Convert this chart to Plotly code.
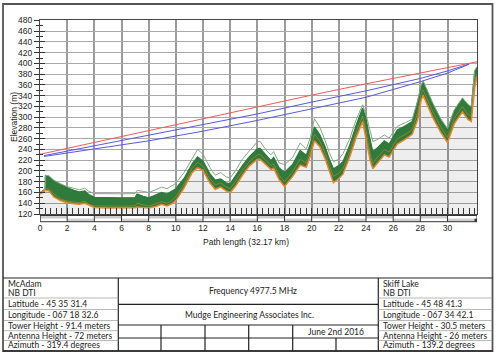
import plotly.graph_objects as go

# ---------------- data ----------------
x_km = [0.0, 0.38, 0.4, 0.65, 1.0, 1.5, 2.0, 2.5, 2.9, 3.3, 3.6, 4.0, 5.0, 6.0, 7.0, 7.15,
        7.6, 8.0, 8.5, 8.95, 9.35, 9.7, 10.0, 10.6, 11.2, 11.6, 12.0, 12.5, 12.9, 13.3,
        13.7, 14.0, 14.4, 14.9, 15.4, 16.0, 16.2, 16.7, 17.0, 17.2, 17.6, 18.0, 18.6,
        19.15, 19.6, 19.9, 20.2, 20.6, 21.0, 21.3, 21.6, 22.0, 22.3, 22.8, 23.3, 23.75,
        24.0, 24.3, 24.5, 24.8, 25.35, 25.7, 26.3, 26.9, 27.4, 27.8, 28.05, 28.2, 28.45,
        28.9, 29.5, 30.0, 30.5, 31.1, 31.5, 31.75, 32.0, 32.17]
ground_m = [157, 163, 164, 163, 152, 145, 141, 139, 138, 140, 136, 132, 131, 131, 131.5, 133,
            132, 131, 134, 138, 135, 139, 145, 168, 197, 206, 201, 178, 166, 170,
            163, 160, 172, 192, 209, 222, 222, 211, 203, 205, 184, 171, 190,
            211, 207, 228, 256, 245, 222, 200, 178, 186, 194, 226, 264, 292,
            258, 220, 204, 214, 230, 226, 250, 259, 268, 295, 330, 341, 326,
            300, 272, 253, 288, 310, 296, 292, 355, 376]
profile_m = [159, 165.5, 166, 166.5, 158, 148, 144, 142, 141, 144, 138, 135, 134.5, 134.5, 135, 140,
             137, 135, 139, 143, 140, 145, 152, 175, 205, 216, 209, 186, 174, 178,
             170, 167.5, 181, 201, 217, 230, 231, 219, 210, 213, 192, 180, 199,
             222, 215, 238, 268, 256, 232, 210, 190, 196, 204, 236, 274, 302,
             275, 232, 214, 224, 240, 235, 260, 268, 277, 308, 342, 351, 337,
             311, 282, 262, 298, 320, 305, 302, 368, 380]
canopy_m = [159.5, 166, 191, 190, 182, 175, 169, 164, 161, 163, 156, 151, 150, 150, 150.5, 157,
            153, 150, 155, 160, 157, 162, 167, 186, 213, 226, 218, 195, 183, 185,
            178, 176, 191, 210, 226, 241, 242, 227, 219, 225, 206, 197, 212,
            238, 229, 250, 282, 267, 244, 222, 204, 210, 217, 248, 287, 317,
            297, 258, 236, 242, 256, 250, 276, 284, 292, 328, 356, 365, 350,
            325, 295, 277, 312, 334, 322, 318, 385, 392]
outline_m = [160, 166.5, 192, 191, 183, 176, 171, 167, 165, 168, 162, 158, 157.5, 157.5, 158, 164,
             162, 160, 165, 170, 167, 172, 177, 197, 223, 240, 231, 207, 192, 197,
             189, 187, 201, 222, 237, 254, 255, 237, 230, 236, 215, 212, 225,
             252, 241, 262, 297, 281, 256, 234, 217, 222, 232, 260, 297, 323,
             305, 275, 255, 258, 267, 261, 283, 290, 296, 331, 359, 368, 352,
             327, 297, 279, 314, 336, 324, 320, 387, 394]

los_km = [0, 2, 4, 8, 12, 16, 20, 24, 28, 30, 32.17]
los_m = [231, 242, 253.5, 276, 298, 319.5, 341, 362, 382.5, 393, 403]
fresnel_km = [0.3, 2, 4, 8, 12, 16, 20, 24, 28, 30, 31.6]
fresnel60_m = [228.5, 237, 247, 266, 286, 306, 328, 349, 372, 386, 399]
fresnel100_m = [227, 233, 241, 256, 274, 294, 316, 337, 366, 382, 398.5]

x_ticks = list(range(0, 31, 2))
y_ticks = list(range(120, 461, 20))
x_title = "Path length (32.17 km)"
y_title = "Elevation (m)"

site_a = ["McAdam", "NB DTI", "Latitude - 45 35 31.4", "Longitude - 067 18 32.6",
          "Tower Height - 91.4 meters", "Antenna Height - 72 meters", "Azimuth - 319.4 degrees"]
site_b = ["Skiff Lake", "NB DTI", "Latitude - 45 48 41.3", "Longitude - 067 34 42.1",
          "Tower Height - 30.5 meters", "Antenna Height - 26 meters", "Azimuth - 139.2 degrees"]
frequency_text = "Frequency 4977.5 MHz"
company_text = "Mudge Engineering Associates Inc."
date_text = "June 2nd 2016"

# ---------------- layout geometry (pixels) ----------------
W, H = 500, 355
L, R, T, B = 40, 477, 20, 214
X_RANGE = [0, 32.17]
Y_RANGE = [120, 120 + (B - T) * 1.859]


def PX(px):
    return (px - L) / (R - L)


def PY(py):
    return (B - py) / (B - T)


GREEN = "#2e7b3c"
ORANGE = "#e8862c"
AX_FONT = dict(family="Liberation Sans, Arial", size=8.5, color="#222")
TXT_FONT = dict(family="Lato, Open Sans", size=8.5, color="#222")

fig = go.Figure()
# earth fill below terrain
fig.add_trace(go.Scatter(x=x_km, y=ground_m, mode="lines", line=dict(width=0, color=ORANGE),
                         fill="tozeroy", fillcolor="rgba(0,0,0,0.065)", hoverinfo="skip"))
# clutter band
fig.add_trace(go.Scatter(x=x_km, y=canopy_m, mode="lines", line=dict(width=1.3, color=GREEN),
                         fill="tonexty", fillcolor=GREEN, hoverinfo="skip"))
fig.add_trace(go.Scatter(x=x_km, y=ground_m, mode="lines", line=dict(width=1.5, color=ORANGE)))
fig.add_trace(go.Scatter(x=x_km, y=profile_m, mode="lines", line=dict(width=0.7, color=ORANGE),
                         opacity=0.75))
fig.add_trace(go.Scatter(x=x_km, y=outline_m, mode="lines", line=dict(width=1, color="#84aa84")))
# line of sight and fresnel lines
fig.add_trace(go.Scatter(x=fresnel_km, y=fresnel60_m, mode="lines", line=dict(width=1, color="#5858e0")))
fig.add_trace(go.Scatter(x=fresnel_km, y=fresnel100_m, mode="lines", line=dict(width=1, color="#5858e0")))
fig.add_trace(go.Scatter(x=los_km, y=los_m, mode="lines", line=dict(width=1, color="#f05a5a"),
                         yaxis="y2"))

shapes = []
# scale strip below the plot
s_top, s_mid, s_bot = PY(215.5), PY(218.6), PY(221.7)
for i, xv in enumerate(x_ticks):
    x1 = min(xv + 2, X_RANGE[1])
    if i % 2 == 0:
        shapes.append(dict(type="rect", xref="x", yref="paper", x0=xv, x1=x1, y0=s_mid, y1=s_top,
                           fillcolor="#cfcfcf", line=dict(width=0)))
    else:
        shapes.append(dict(type="rect", xref="x", yref="paper", x0=xv, x1=x1, y0=s_bot, y1=s_mid,
                           fillcolor="#cfcfcf", line=dict(width=0)))
    shapes.append(dict(type="line", xref="x", yref="paper", x0=xv, x1=xv, y0=s_bot, y1=s_top,
                       line=dict(width=1, color="#333")))
shapes.append(dict(type="rect", xref="x", yref="paper", x0=X_RANGE[0], x1=X_RANGE[1], y0=s_bot, y1=s_top,
                   line=dict(width=1, color="#333")))
shapes.append(dict(type="rect", xref="paper", yref="paper", x0=PX(474.5), x1=PX(477), y0=s_bot, y1=s_mid,
                   fillcolor="#333", line=dict(width=0)))

# outer frame
shapes.append(dict(type="rect", xref="paper", yref="paper", x0=PX(3), x1=PX(492.5), y0=PY(351), y1=PY(4),
                   line=dict(width=1.8, color="#555")))
# info table
tl = dict(width=1.2, color="#222")
thin = dict(width=0.7, color="#9a9a9a")


def hline(x0, x1, y, line):
    shapes.append(dict(type="line", xref="paper", yref="paper", x0=PX(x0), x1=PX(x1), y0=PY(y), y1=PY(y), line=line))


def vline(x, y0, y1, line):
    shapes.append(dict(type="line", xref="paper", yref="paper", x0=PX(x), x1=PX(x), y0=PY(y0), y1=PY(y1), line=line))


hline(3, 492.5, 278, tl)
hline(3, 492.5, 351, tl)
vline(118.3, 278, 351, tl)
vline(378.3, 278, 351, tl)
hline(118.3, 378.3, 304.3, tl)
hline(118.3, 378.3, 325, tl)
hline(118.3, 378.3, 338, tl)
for xv in [161, 205, 248.7, 292.7]:
    vline(xv, 325, 351, tl)
vline(336, 338, 351, tl)
for yv in [298, 309.5, 320.5, 330.7, 340.5]:
    hline(4, 118.3, yv, thin)
    hline(378.3, 492, yv, thin)

annotations = []
rows_y = [284, 292.7, 303.7, 315.2, 325.7, 335.5, 345.3]
for txt, yv in zip(site_a, rows_y):
    annotations.append(dict(x=PX(6), y=PY(yv), xref="paper", yref="paper", text=txt, showarrow=False,
                            xanchor="left", yanchor="middle", font=TXT_FONT))
for txt, yv in zip(site_b, rows_y):
    annotations.append(dict(x=PX(381), y=PY(yv), xref="paper", yref="paper", text=txt, showarrow=False,
                            xanchor="left", yanchor="middle", font=TXT_FONT))
annotations.append(dict(x=PX(253), y=PY(291), xref="paper", yref="paper", text=frequency_text,
                        showarrow=False, xanchor="center", yanchor="middle", font=TXT_FONT))
annotations.append(dict(x=PX(249), y=PY(314.5), xref="paper", yref="paper", text=company_text,
                        showarrow=False, xanchor="center", yanchor="middle", font=TXT_FONT))
annotations.append(dict(x=PX(335.5), y=PY(331.5), xref="paper", yref="paper", text=date_text,
                        showarrow=False, xanchor="center", yanchor="middle", font=TXT_FONT))
annotations.append(dict(x=PX(246), y=PY(242), xref="paper", yref="paper", text=x_title,
                        showarrow=False, xanchor="center", yanchor="middle", font=AX_FONT))
annotations.append(dict(x=PX(14), y=PY(117), xref="paper", yref="paper", text=y_title, textangle=-90,
                        showarrow=False, xanchor="center", yanchor="middle", font=AX_FONT))

fig.update_layout(
    width=W, height=H, margin=dict(l=L, r=W - R, t=T, b=H - B, pad=0),
    paper_bgcolor="white", plot_bgcolor="white", showlegend=False,
    shapes=shapes, annotations=annotations,
    xaxis=dict(range=X_RANGE, tickvals=x_ticks, ticktext=[str(v) for v in x_ticks],
               ticks="inside", ticklen=6, tickcolor="#333", tickfont=AX_FONT, ticklabelstandoff=6,
               showgrid=True, gridcolor="#9c9c9c", gridwidth=1.6, zeroline=False,
               showline=True, linecolor="#444", linewidth=1, mirror=True,
               minor=dict(tick0=0, dtick=0.4, ticks="inside", ticklen=6, tickcolor="#333", showgrid=False)),
    yaxis=dict(range=Y_RANGE, tickmode="linear", tick0=120, dtick=20, ticks="outside", ticklen=5,
               tickcolor="#333", tickfont=AX_FONT, showgrid=True, gridcolor="#a8a8a8", gridwidth=1.2,
               zeroline=False, showline=True, linecolor="#444", linewidth=1, mirror=True,
               minor=dict(dtick=10, ticks="outside", ticklen=3, tickcolor="#333", showgrid=False)),
    yaxis2=dict(range=Y_RANGE, overlaying="y", side="left", tickmode="linear", tick0=120, dtick=20,
                ticks="inside", ticklen=5, tickcolor="#333", showticklabels=False, showgrid=False,
                zeroline=False, showline=False,
                minor=dict(dtick=10, ticks="inside", ticklen=3, tickcolor="#333", showgrid=False)),
)

fig.write_html("out.html", config={"displayModeBar": False},
               post_script="document.body.style.margin='0';document.body.style.overflow='hidden';")
